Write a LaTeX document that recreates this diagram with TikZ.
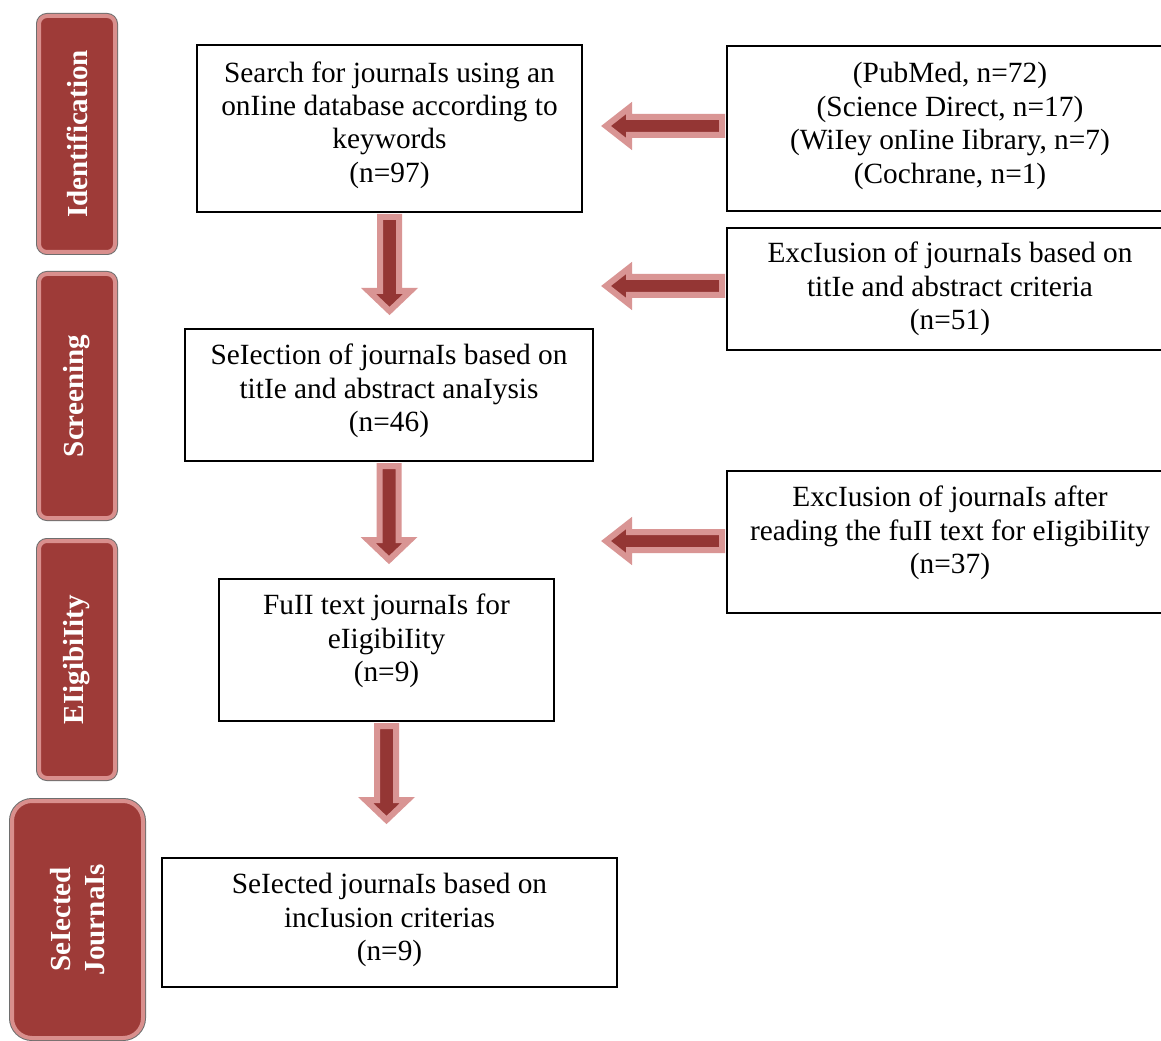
\documentclass[tikz,border=0pt]{standalone}
\usepackage{fontspec}
\setmainfont{Liberation Serif}
\usetikzlibrary{fit,calc}
\definecolor{arrowdark}{HTML}{943634}
\definecolor{arrowpink}{HTML}{D99594}
\definecolor{labelred}{HTML}{9E3B38}
\definecolor{labelrim}{HTML}{D98F8D}
\definecolor{labelshadow}{HTML}{6E6E6E}
\tikzset{
  box/.style={draw=black, line width=1.5pt, inner sep=0pt},
  boxtext/.style={align=center, inner sep=0pt, font=\fontsize{22}{25.1}\selectfont},
  stage/.style={rotate=90, align=center, text=white, fill=labelred, draw=labelrim,
    line width=3pt, preaction={draw=labelshadow, line width=4.5pt},
    rounded corners=6pt, inner sep=0pt, font=\fontsize{21.8}{26}\selectfont\bfseries},
  blk/.style={fill=arrowdark, draw=arrowpink, line width=4.5pt, line join=miter, miter limit=10},
  pics/downblk/.style={code={
    \draw[blk] (-9.5,4) -- (-9.5,78) -- (-21,78) -- (0,98) -- (21,78) -- (9.5,78) -- (9.5,4) -- cycle;}},
  pics/leftblk/.style={code={
    \draw[blk] (-4,-9) -- (-97,-9) -- (-97,-18) -- (-120,0) -- (-97,18) -- (-97,9) -- (-4,9) -- cycle;}},
}
\begin{document}
\begin{tikzpicture}[x=0.75pt, y=-0.75pt]
\useasboundingbox (0,0) rectangle (1161,1041);
\fill[white] (0,0) rectangle (1161,1041);
\clip (0,0) rectangle (1161,1041);

% stage labels
\node[stage, minimum width=177pt, minimum height=57pt] (sid) at (77,134) {Identification};
\node[stage, minimum width=183pt, minimum height=57pt] (sscr) at (77,396) {Screening};
\node[stage, minimum width=177.75pt, minimum height=57pt] (selig) at (77,659.5) {EIigibiIity};
\node[stage, minimum width=177.75pt, minimum height=98.25pt, rounded corners=15pt] (ssel) at (77.5,919.5) {SeIected\\JournaIs};

% main boxes
\node[box, fit={(197,45) (582,212)}] (l1) {};
\node[box, fit={(185,329) (593,461)}] (l2) {};
\node[box, fit={(219,579) (554,721)}] (l3) {};
\node[box, fit={(162,858) (617,987)}] (l4) {};
\node[box, fit={(727,46) (1175,211)}] (r1) {};
\node[box, fit={(727,228) (1175,350)}] (r2) {};
\node[box, fit={(727,471) (1175,613)}] (r3) {};

% texts
\node[boxtext] (t1) at (389.5,125) {Search for journaIs using an\\onIine database according to\\keywords\\(n=97)};
\node[boxtext] (t2) at (389,391) {SeIection of journaIs based on\\titIe and abstract anaIysis\\(n=46)};
\node[boxtext] (t3) at (386.5,641) {FuII text journaIs for\\eIigibiIity\\(n=9)};
\node[boxtext] (t4) at (389.5,920) {SeIected journaIs based on\\incIusion criterias\\(n=9)};
\node[boxtext] (u1) at (950,126) {(PubMed, n=72)\\(Science Direct, n=17)\\(WiIey onIine Iibrary, n=7)\\(Cochrane, n=1)};
\node[boxtext] (u2) at (950,289) {ExcIusion of journaIs based on\\titIe and abstract criteria\\(n=51)};
\node[boxtext] (u3) at (950,533) {ExcIusion of journaIs after\\reading the fuII text for eIigibiIity\\(n=37)};

% block arrows
\pic at (l1.south) {downblk};
\pic at (l2.south) {downblk};
\pic at (l3.south) {downblk};
\pic at ($(r1.west)+(0,-2.5)$) {leftblk};
\pic at ($(r2.west)+(0,-3)$) {leftblk};
\pic at ($(r3.west)+(0,-1)$) {leftblk};
\end{tikzpicture}
\end{document}
